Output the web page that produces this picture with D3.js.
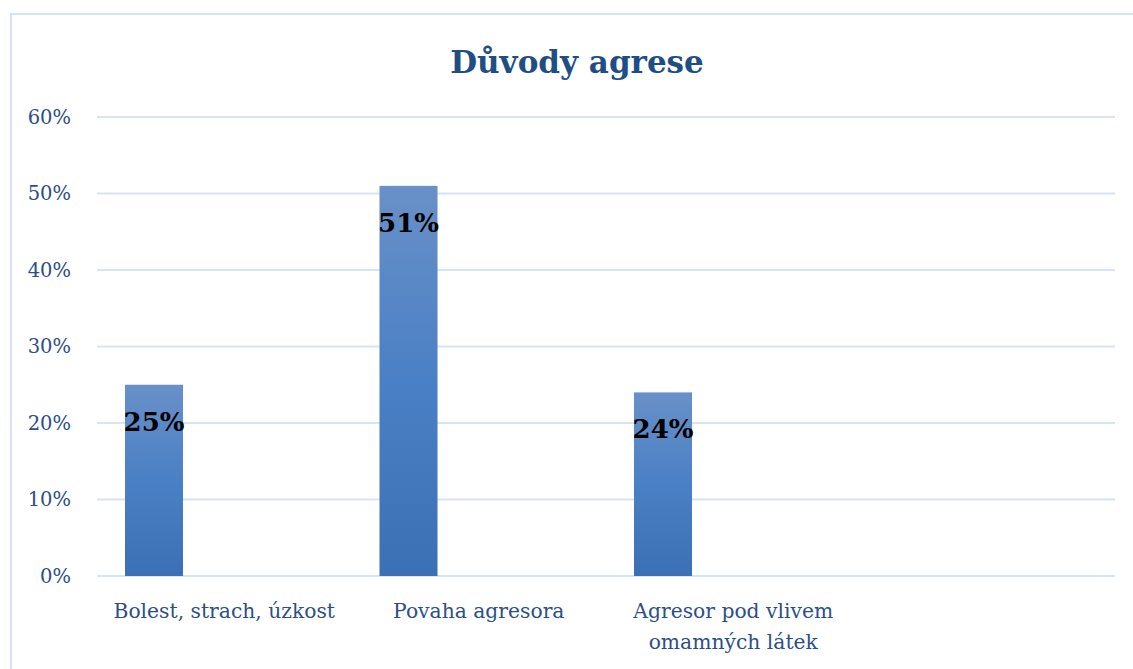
<!DOCTYPE html>
<html>
<head>
<meta charset="utf-8">
<script src="https://cdn.jsdelivr.net/npm/d3@7"></script>
<style>
  body { margin: 0; background: #fff; }
  svg text { font-family: "Palatino Linotype", "Book Antiqua", "DejaVu Serif", serif; }
</style>
</head>
<body>
<svg id="chart" width="1133" height="669"></svg>
<script>
// data
var categories = ["Bolest, strach, úzkost", "Povaha agresora", "Agresor pod vlivem omamných látek", ""];
var values = [0.25, 0.51, 0.24];
var yTicks = [0, 0.1, 0.2, 0.3, 0.4, 0.5, 0.6];
var title = "Důvody agrese";

var svg = d3.select("#chart");
var margin = { top: 117, right: 18, bottom: 93, left: 97 };
var width = 1133 - margin.left - margin.right;
var height = 669 - margin.top - margin.bottom;

// chart frame
svg.append("rect")
  .attr("x", 11).attr("y", 14)
  .attr("width", 1140).attr("height", 680)
  .attr("fill", "none")
  .attr("stroke", "#d7e3f4")
  .attr("stroke-width", 2);

var defs = svg.append("defs");
var grad = defs.append("linearGradient")
  .attr("id", "barGrad")
  .attr("x1", 0).attr("y1", 0).attr("x2", 0).attr("y2", 1);
grad.append("stop").attr("offset", "0%").attr("stop-color", "#6990c8");
grad.append("stop").attr("offset", "50%").attr("stop-color", "#4a80c5");
grad.append("stop").attr("offset", "100%").attr("stop-color", "#3c70b4");

var g = svg.append("g").attr("transform", "translate(" + margin.left + "," + margin.top + ")");

var x = d3.scaleBand().domain(categories).range([0, width]).padding(0);
var y = d3.scaleLinear().domain([0, 0.6]).range([height, 0]);

// gridlines
g.selectAll(".grid")
  .data(yTicks)
  .enter()
  .append("line")
  .attr("class", "grid")
  .attr("x1", 0)
  .attr("x2", width)
  .attr("y1", (d) => y(d))
  .attr("y2", (d) => y(d))
  .attr("stroke", "#d9e4f3")
  .attr("stroke-width", 2);

// y axis labels
var yAxis = d3.axisLeft(y).tickValues(yTicks).tickFormat(d3.format(".0%")).tickSize(0).tickPadding(26);
g.append("g")
  .call(yAxis)
  .call((a) => a.select(".domain").remove())
  .selectAll("text")
  .attr("fill", "#2c4f86")
  .style("font-family", "'DejaVu Serif', serif")
  .style("font-size", "19.5px");

// bars sit in the left part of each category slot
var barOff = 0.11;
var barW = 0.228;

g.selectAll(".bar")
  .data(values)
  .enter()
  .append("rect")
  .attr("class", "bar")
  .attr("x", (d, i) => x(categories[i]) + x.bandwidth() * barOff)
  .attr("width", x.bandwidth() * barW)
  .attr("y", (d) => y(d))
  .attr("height", (d) => height - y(d))
  .attr("fill", "url(#barGrad)");

// value labels
g.selectAll(".val")
  .data(values)
  .enter()
  .append("text")
  .attr("class", "val")
  .attr("x", (d, i) => x(categories[i]) + x.bandwidth() * (barOff + barW / 2))
  .attr("y", (d) => y(d) + 46)
  .attr("text-anchor", "middle")
  .attr("fill", "#000")
  .style("font-size", "26px")
  .style("font-weight", "bold")
  .text((d) => d3.format(".0%")(d));

// category labels (wrapped)
var wrapMap = {
  "Agresor pod vlivem omamných látek": ["Agresor pod vlivem", "omamných látek"]
};
categories.forEach(function (c) {
  if (!c) return;
  var lines = wrapMap[c] || [c];
  var t = g.append("text")
    .attr("x", x(c) + x.bandwidth() / 2)
    .attr("y", height + 42)
    .attr("text-anchor", "middle")
    .attr("fill", "#2c4f86")
    .style("font-size", "20.3px");
  lines.forEach(function (l, i) {
    t.append("tspan")
      .attr("x", x(c) + x.bandwidth() / 2)
      .attr("dy", i === 0 ? 0 : 31)
      .text(l);
  });
});

// title
svg.append("text")
  .attr("x", 577)
  .attr("y", 73)
  .attr("text-anchor", "middle")
  .attr("fill", "#1f4e85")
  .style("font-size", "31px")
  .style("font-weight", "bold")
  .text(title);
</script>
</body>
</html>
